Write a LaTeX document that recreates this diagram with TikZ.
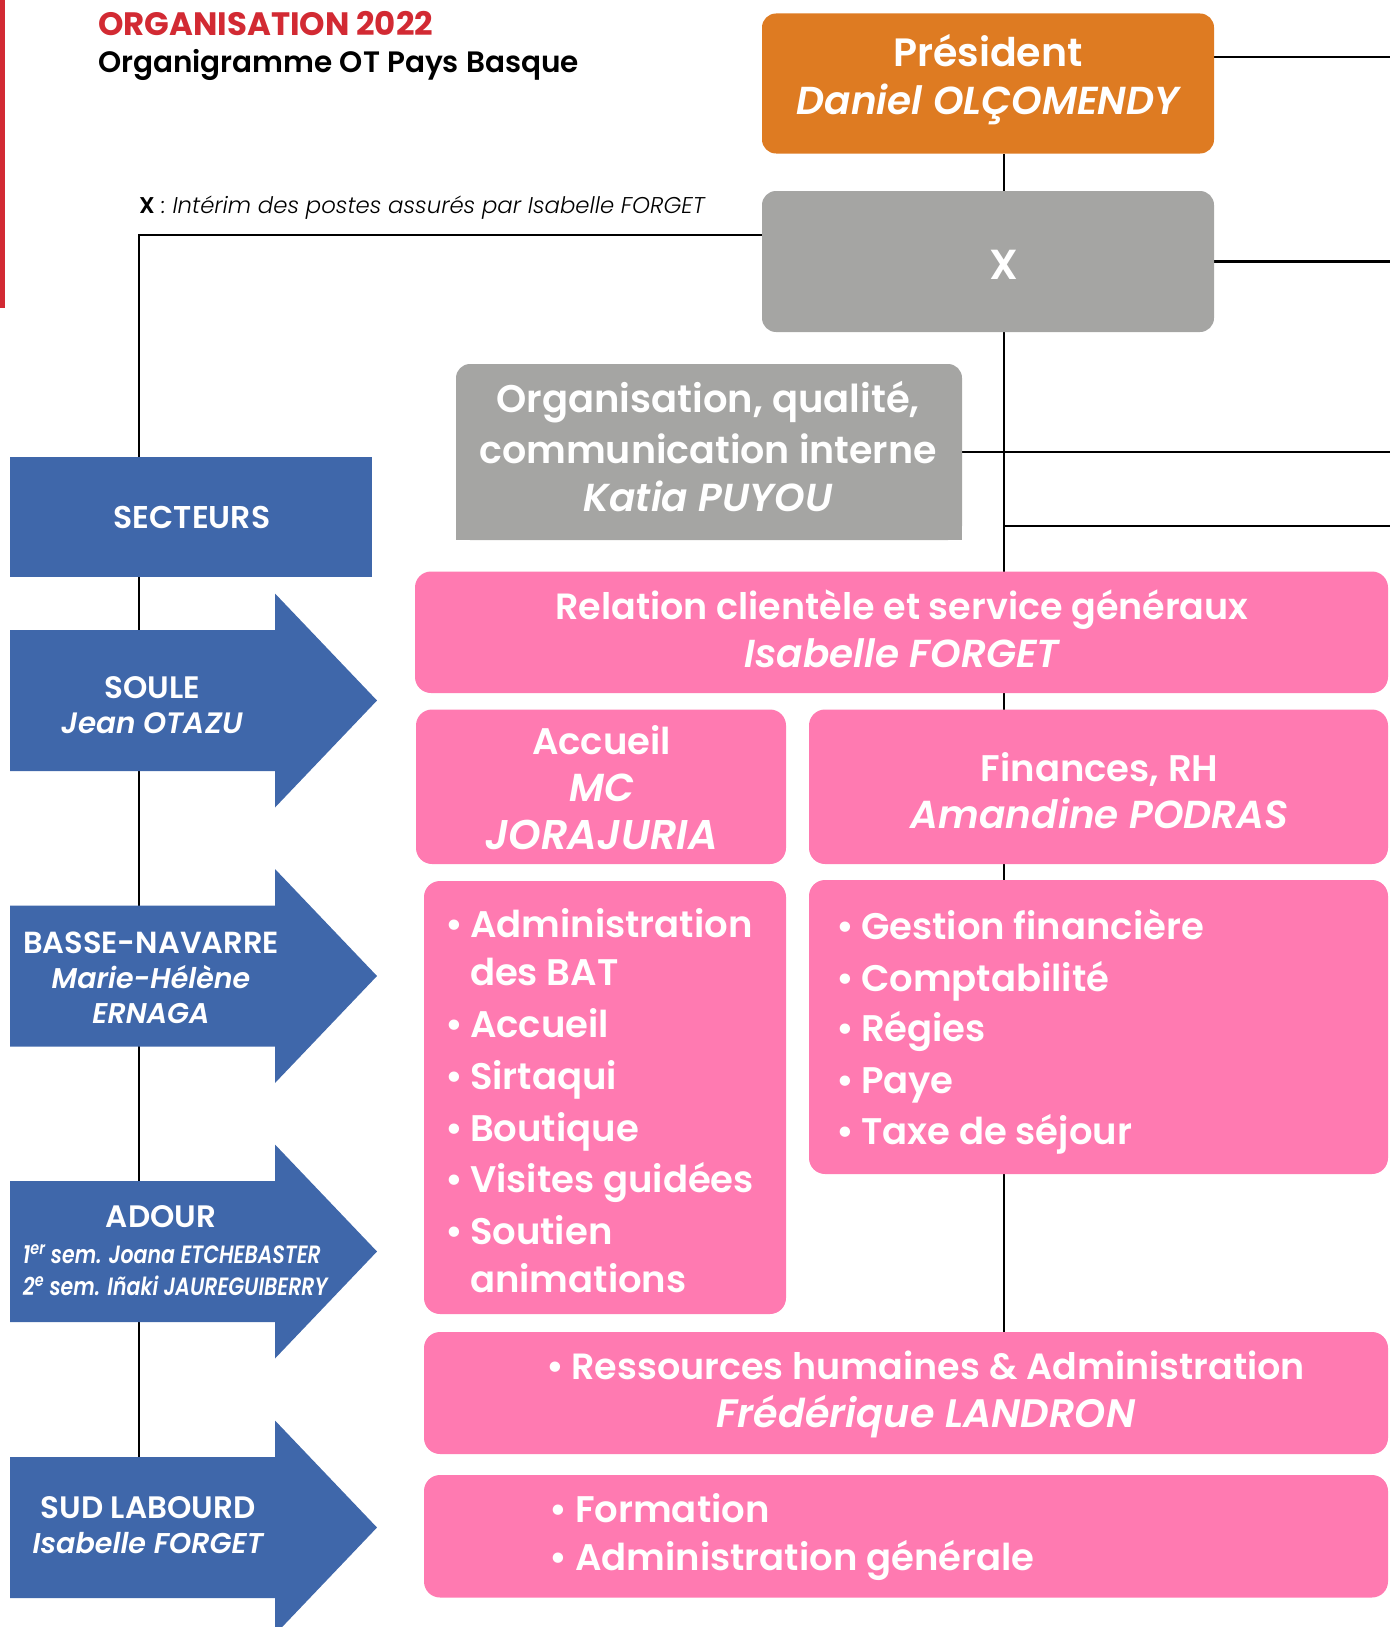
\documentclass[tikz,border=0pt]{standalone}
\usepackage{fontspec}
\setmainfont{Poppins}[UprightFont=* SemiBold, ItalicFont=* SemiBold Italic, BoldFont=* Bold, BoldItalicFont=* Bold Italic]
\newfontfamily\lightfont{Poppins}[UprightFont=* Light, ItalicFont=* Light Italic, BoldFont=* SemiBold]
\definecolor{orgorange}{HTML}{DE7B22}
\definecolor{orggray}{HTML}{A5A5A3}
\definecolor{secblue}{HTML}{3F67AA}
\definecolor{orgpink}{HTML}{FF7AB1}
\definecolor{orgred}{HTML}{D22A33}
\pgfdeclarelayer{bg}
\pgfsetlayers{bg,main}
\newcommand\FS[1]{\fontsize{#1}{#1}\selectfont}
\newcommand\secarrow[1]{%
  \fill[secblue] (10,#1) -- (275,#1) -- (275,{#1-36.5}) -- (377,{#1+70.5}) -- (275,{#1+177.5}) -- (275,{#1+141}) -- (10,{#1+141}) -- cycle;}
\newcommand\bitem[5]{%
  \node[wt, anchor=base] (#1b) at (#2,#4) {\FS{37}•};
  \node[wt, anchor=base west] (#1t) at (#3,#4) {\FS{37}#5};}
\begin{document}
\begin{tikzpicture}[x=1pt,y=-1pt,
  wt/.style={inner sep=0, outer sep=0, text=white, anchor=base},
  conn/.style={line width=2.9pt, black},
  bx/.style={inner sep=0, outer sep=0, rounded corners=14pt},
  pinkbox/.style={fill=orgpink, inner sep=0, outer sep=0, rounded corners=16pt}]
\useasboundingbox (0,0) rectangle (1390,1627);
\fill[orgred] (0,0) rectangle (5,308);

% titles
\node[inner sep=0, anchor=base west, text=orgred] (title) at (98,36) {\FS{32.4}\bfseries ORGANISATION 2022};
\node[inner sep=0, anchor=base west] (subtitle) at (98,73) {\FS{29.5}Organigramme OT Pays Basque};
\node[inner sep=0, anchor=base west] (note) at (139,213) {\lightfont\FS{22.8}\textbf{X}\textit{ : Intérim des postes assurés par Isabelle FORGET}};

% boxes
\node[bx, fill=orgorange, minimum width=452, minimum height=140] (pres) at (988,83.5) {};
\node[wt] (presA) at (988,67) {\FS{39.5}Président};
\node[wt] (presB) at (988,115) {\FS{39}\itshape Daniel OLÇOMENDY};

\node[bx, fill=orggray, minimum width=452, minimum height=141] (xbox) at (988,261.5) {};
\node[wt] (xlab) at (1004,279) {\FS{42}X};

\node[bx, fill=orggray, minimum width=506, minimum height=176] (org) at (709,452) {};
\fill[orggray] (456,452) rectangle (962,540);
\node[wt] (orgA) at (708,412) {\FS{38.5}Organisation, qualité,};
\node[wt] (orgB) at (708,463) {\FS{38}communication interne};
\node[wt] (orgC) at (708,511) {\FS{39}\itshape Katia PUYOU};

\node[fill=secblue, inner sep=0, outer sep=0, minimum width=362, minimum height=120] (sect) at (191,517) {};
\node[wt] (sectT) at (192,528) {\FS{31.5}SECTEURS};

% sector arrows
\secarrow{630}
\node[wt] (souleA) at (152,698.5) {\FS{31}SOULE};
\node[wt] (souleB) at (152,733.5) {\FS{29.5}\itshape Jean OTAZU};
\secarrow{905.5}
\node[wt] (bnA) at (151,953.5) {\FS{30.5}BASSE-NAVARRE};
\node[wt] (bnB) at (151,988.5) {\FS{28.5}\itshape Marie-Hélène};
\node[wt] (bnC) at (151,1023.5) {\FS{28.5}\itshape ERNAGA};
\secarrow{1181}
\node[wt] (adA) at (161,1227.5) {\FS{31}ADOUR};
\node[wt, anchor=base west] (adB) at (23,1263.5) {\scalebox{0.82}[1]{\FS{25}\itshape 1\textsuperscript{er} sem. Joana ETCHEBASTER}};
\node[wt, anchor=base west] (adC) at (23,1295.5) {\scalebox{0.82}[1]{\FS{25}\itshape 2\textsuperscript{e} sem. Iñaki JAUREGUIBERRY}};
\secarrow{1457}
\node[wt] (slA) at (148,1518.5) {\FS{31}SUD LABOURD};
\node[wt] (slB) at (148,1553.5) {\FS{28.6}\itshape Isabelle FORGET};

% pink boxes
\node[pinkbox, minimum width=973, minimum height=121.5] (rel) at (901.5,632.25) {};
\node[wt] (relA) at (902,619.5) {\FS{36.5}Relation clientèle et service généraux};
\node[wt] (relB) at (902,667) {\FS{39}\itshape Isabelle FORGET};

\node[pinkbox, minimum width=370, minimum height=154.5] (acc) at (601,786.75) {};
\node[wt] (accA) at (601.5,754) {\FS{37}Accueil};
\node[wt] (accB) at (601.5,801.5) {\FS{39}\itshape MC};
\node[wt] (accC) at (601.5,849.5) {\FS{41.5}\itshape JORAJURIA};

\node[pinkbox, minimum width=579, minimum height=154.5] (fin) at (1098.5,786.75) {};
\node[wt] (finA) at (1099.5,781) {\FS{37}Finances, RH};
\node[wt] (finB) at (1099.5,828.5) {\FS{39}\itshape Amandine PODRAS};

\node[pinkbox, minimum width=362, minimum height=433] (bl) at (605,1097.5) {};
\bitem{l1}{454}{470}{937.5}{Administration}
\node[wt, anchor=base west] (l1c) at (470,985.5) {\FS{37}des BAT};
\bitem{l2}{454}{470}{1037.5}{Accueil}
\bitem{l3}{454}{470}{1089.5}{Sirtaqui}
\bitem{l4}{454}{470}{1141}{Boutique}
\bitem{l5}{454}{470}{1192.5}{Visites guidées}
\bitem{l6}{454}{470}{1244.5}{Soutien}
\node[wt, anchor=base west] (l6c) at (470,1292.5) {\FS{37}animations};

\node[pinkbox, minimum width=579, minimum height=294] (br) at (1098.5,1027) {};
\bitem{r1}{845}{861}{939.5}{Gestion financière}
\bitem{r2}{845}{861}{991.5}{Comptabilité}
\bitem{r3}{845}{861}{1041.5}{Régies}
\bitem{r4}{845}{861}{1093.5}{Paye}
\bitem{r5}{845}{861}{1144.5}{Taxe de séjour}

\node[pinkbox, minimum width=964, minimum height=122] (rh) at (906,1393) {};
\node[wt, anchor=base] (h1b) at (555,1379.5) {\FS{37}•};
\node[wt, anchor=base west] (h1t) at (571.5,1379.5) {\FS{36.5}Ressources humaines \& Administration};
\node[wt] (h2) at (926,1427.5) {\FS{39.7}\itshape Frédérique LANDRON};

\node[pinkbox, minimum width=964, minimum height=122.5] (form) at (906,1536.25) {};
\bitem{f1}{558}{575}{1522.5}{Formation}
\bitem{f2}{558}{575}{1570.5}{Administration générale}

% connectors
\coordinate (edge) at (1390,0);
\coordinate (vx) at (1004,0);
\coordinate (xl) at (762,235);
\coordinate (lx) at (139,235);
\coordinate (sudtop) at (139,1457);
\coordinate (presr) at (1214,57);
\coordinate (mid) at (1004,526);
\begin{pgfonlayer}{bg}
\draw[conn] (pres.south -| vx) -- (rh.north -| vx);
\draw[conn] (xl) -- (lx) -- (sudtop);
\draw[conn] (presr) -- (presr -| edge);
\draw[conn] (xbox.east) -- (xbox.east -| edge);
\draw[conn] (org.east) -- (org.east -| edge);
\draw[conn] (mid) -- (mid -| edge);
\end{pgfonlayer}
\end{tikzpicture}
\end{document}
